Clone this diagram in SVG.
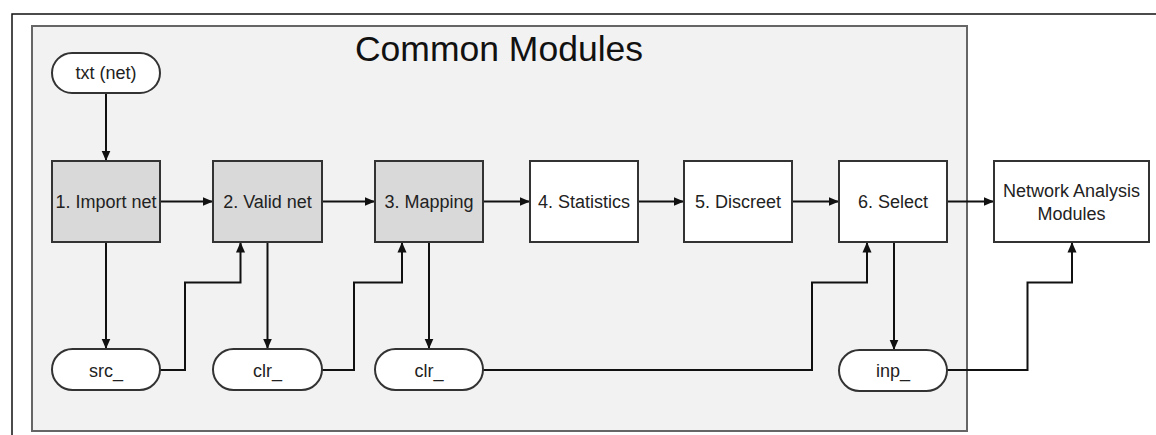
<svg xmlns="http://www.w3.org/2000/svg" width="1156" height="435" viewBox="0 0 1156 435">
<style>
.lbl{font-family:"Liberation Sans",Arial,sans-serif;font-size:18px;fill:#222;text-anchor:middle}
.title{font-family:"Liberation Sans",Arial,sans-serif;font-size:35.5px;fill:#111;text-anchor:middle}
.box{stroke:#333;stroke-width:2}
.gray{fill:#d9d9d9}
.white{fill:#fff}
.term{fill:#fff;stroke:#333;stroke-width:2}
.conn{fill:none;stroke:#111;stroke-width:2;marker-end:url(#arr)}
</style>
<defs>
<marker id="arr" markerUnits="userSpaceOnUse" markerWidth="12" markerHeight="12" viewBox="0 0 12 12" refX="10.5" refY="6" orient="auto">
<path d="M0,1.5 L10.5,6 L0,10.5 Z" fill="#111"/>
</marker>
</defs>
<rect width="1156" height="435" fill="#fff"/>
<rect x="12" y="14" width="1200" height="500" fill="none" stroke="#111" stroke-width="1.5"/>
<g id="container">
<rect x="32" y="26" width="935" height="405" fill="#f2f2f2" stroke="#666" stroke-width="2"/>
<text class="title" x="499" y="61">Common Modules</text>
</g>
<g id="connectors">
<path class="conn" d="M106,93 V161"/>
<path class="conn" d="M160,201.5 H213"/>
<path class="conn" d="M322,201.5 H375"/>
<path class="conn" d="M483,201.5 H530"/>
<path class="conn" d="M638,201.5 H684"/>
<path class="conn" d="M792,201.5 H839"/>
<path class="conn" d="M947,201.5 H994"/>
<path class="conn" d="M106,242 V349"/>
<path class="conn" d="M160,370 H185 V282.5 H240.5 V242"/>
<path class="conn" d="M267.5,242 V349"/>
<path class="conn" d="M322,370 H354 V282.5 H402 V242"/>
<path class="conn" d="M429,242 V349"/>
<path class="conn" d="M483,370 H812 V282.5 H867 V242"/>
<path class="conn" d="M894,242 V350"/>
<path class="conn" d="M947,370 H1027.5 V282.5 H1072 V242"/>
</g>
<g id="txt-net">
<rect class="term" x="52" y="53" width="108" height="40" rx="20"/>
<text class="lbl" x="106" y="79">txt (net)</text>
</g>
<g id="import-net">
<rect class="box gray" x="52" y="161" width="108" height="81"/>
<text class="lbl" x="106" y="208">1. Import net</text>
</g>
<g id="valid-net">
<rect class="box gray" x="213" y="161" width="109" height="81"/>
<text class="lbl" x="267.5" y="208">2. Valid net</text>
</g>
<g id="mapping">
<rect class="box gray" x="375" y="161" width="108" height="81"/>
<text class="lbl" x="429" y="208">3. Mapping</text>
</g>
<g id="statistics">
<rect class="box white" x="530" y="161" width="108" height="81"/>
<text class="lbl" x="584" y="208">4. Statistics</text>
</g>
<g id="discreet">
<rect class="box white" x="684" y="161" width="108" height="81"/>
<text class="lbl" x="738" y="208">5. Discreet</text>
</g>
<g id="select">
<rect class="box white" x="839" y="161" width="108" height="81"/>
<text class="lbl" x="893" y="208">6. Select</text>
</g>
<g id="network-analysis">
<rect class="box white" x="994" y="161" width="155" height="81"/>
<text class="lbl" x="1071.5" y="196.5">Network Analysis</text>
<text class="lbl" x="1071.5" y="219.5">Modules</text>
</g>
<g id="src">
<rect class="term" x="52" y="349" width="108" height="41" rx="20.5"/>
<text class="lbl" x="106" y="376.5">src_</text>
</g>
<g id="clr1">
<rect class="term" x="213" y="349" width="109" height="41" rx="20.5"/>
<text class="lbl" x="267.5" y="376.5">clr_</text>
</g>
<g id="clr2">
<rect class="term" x="375" y="349" width="108" height="41" rx="20.5"/>
<text class="lbl" x="429" y="376.5">clr_</text>
</g>
<g id="inp">
<rect class="term" x="839" y="350" width="108" height="41" rx="20.5"/>
<text class="lbl" x="893" y="377">inp_</text>
</g>
</svg>
